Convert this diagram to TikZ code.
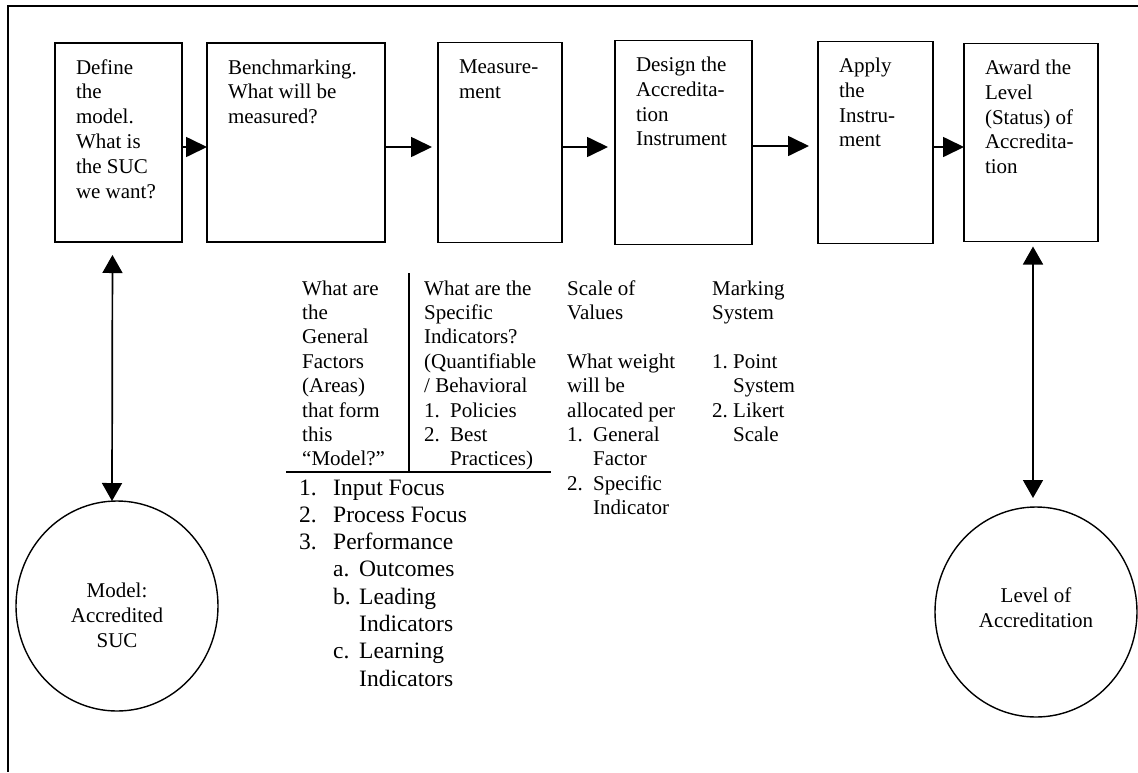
\documentclass[tikz,border=0pt]{standalone}
\usepackage{fontspec}
\setmainfont{Liberation Serif}
\usetikzlibrary{arrows.meta, positioning, shapes.geometric}

\newcommand{\boxfont}{\fontsize{21}{24.8}\selectfont}
\newcommand{\colfont}{\fontsize{21}{24.4}\selectfont}
\newcommand{\listfont}{\fontsize{23.5}{27.3}\selectfont}
\newcommand{\steptext}[3]{\parbox[t][#2][t]{#1}{\raggedright\rule{0pt}{15pt}#3}}
\newcommand{\coltext}[2]{\parbox[t]{#1}{\raggedright #2}}
\newcommand{\numitem}[2]{\makebox[#1][l]{#2}}

\begin{document}
\begin{tikzpicture}[
    x=1pt, y=-1pt,
    stepbox/.style={draw, rectangle, line width=1.7pt, outer sep=0pt, inner xsep=21pt, inner ysep=16pt, font=\boxfont},
    ring/.style={draw, ellipse, line width=1.4pt, outer sep=0pt, minimum width=202pt, minimum height=210pt, align=center, font=\fontsize{21}{25}\selectfont},
    coltxt/.style={anchor=base west, inner sep=0pt, font=\colfont},
    flow/.style={-{Triangle[length=21pt,width=20pt]}, line width=1.7pt},
    link/.style={{Triangle[length=18pt,width=20pt]}-{Triangle[length=18pt,width=20pt]}, line width=1.7pt}
  ]

  \useasboundingbox (0,0) rectangle (1138,772);
  \draw[line width=1.5pt] (1138,6) -- (8,6) -- (8,772);

  % process steps
  \node (def) [stepbox, anchor=north west] at (55,43) {\steptext{85pt}{167pt}{Define\\the\\model.\\What is\\the SUC\\we want?}};
  \node (bench) [stepbox, right=25pt of def] {\steptext{136pt}{167pt}{Benchmarking.\\What will be\\measured?}};
  \node (meas) [stepbox, right=53pt of bench] {\steptext{82pt}{168pt}{Measure-\\ment}};
  \node (design) [stepbox, right=53pt of meas] {\steptext{95pt}{172pt}{Design the\\Accredita-\\tion\\Instrument}};
  \node (apply) [stepbox, right=66pt of design] {\steptext{73pt}{170pt}{Apply\\the\\Instru-\\ment}};
  \node (award) [stepbox, right=31pt of apply] {\steptext{92pt}{166pt}{Award the\\Level\\(Status) of\\Accredita-\\tion}};

  \node (model) [ring] at (117,606) {\rule{0pt}{33pt}Model:\\Accredited\\SUC};
  \node (level) [ring] at (1036,612) {Level of\\Accreditation\rule[-8pt]{0pt}{8pt}};

  % notes under the steps
  \node (factors) [coltxt] at (302,295) {\coltext{105pt}{What are\\the\\General\\Factors\\(Areas)\\that form\\this\\“Model?”}};
  \node (indic) [coltxt] at (424,295) {\coltext{130pt}{What are the\\Specific\\Indicators?\\(Quantifiable\\/ Behavioral\\\numitem{26pt}{1.}Policies\\\numitem{26pt}{2.}Best\\\hspace*{26pt}Practices)}};
  \node (scale) [coltxt] at (567,295) {\coltext{130pt}{Scale of\\Values\\[24.4pt]What weight\\will be\\allocated per\\\numitem{26pt}{1.}General\\\hspace*{26pt}Factor\\\numitem{26pt}{2.}Specific\\\hspace*{26pt}Indicator}};
  \node (marking) [coltxt] at (712,295) {\coltext{100pt}{Marking\\System\\[24.4pt]\numitem{21pt}{1.}Point\\\hspace*{21pt}System\\\numitem{21pt}{2.}Likert\\\hspace*{21pt}Scale}};
  \node (areas) [coltxt, font=\listfont] at (299,495) {\coltext{200pt}{\numitem{34pt}{1.}Input Focus\\\numitem{34pt}{2.}Process Focus\\\numitem{34pt}{3.}Performance\\\hspace*{34pt}\numitem{26pt}{a.}Outcomes\\\hspace*{34pt}\numitem{26pt}{b.}Leading\\\hspace*{60pt}Indicators\\\hspace*{34pt}\numitem{26pt}{c.}Learning\\\hspace*{60pt}Indicators}};

  \draw[line width=1.7pt] (409,273) -- (409,472);
  \draw[line width=1.7pt] (286,472) -- (551,472);

  \draw[flow] ([yshift=-4.5pt]def.east) -- ([yshift=-4.5pt]bench.west);
  \draw[flow, shorten >=6pt] ([yshift=-4.5pt]bench.east) -- ([yshift=-4.5pt]meas.west);
  \draw[flow, shorten >=7pt] ([yshift=-4.5pt]meas.east) -- ([yshift=-4.5pt]design.west);
  \draw[flow, shorten >=9pt] ([yshift=-3.5pt]design.east) -- ([yshift=-3.5pt]apply.west);
  \draw[flow] ([yshift=-4.5pt]apply.east) -- ([yshift=-4.5pt]award.west);
  \draw[link, shorten <=13pt] ([xshift=-6pt]def.south) -- ([xshift=-5pt]model.north);
  \draw[link, shorten <=5pt, shorten >=9pt] ([xshift=2pt]award.south) -- ([xshift=-3pt]level.north);

\end{tikzpicture}
\end{document}
